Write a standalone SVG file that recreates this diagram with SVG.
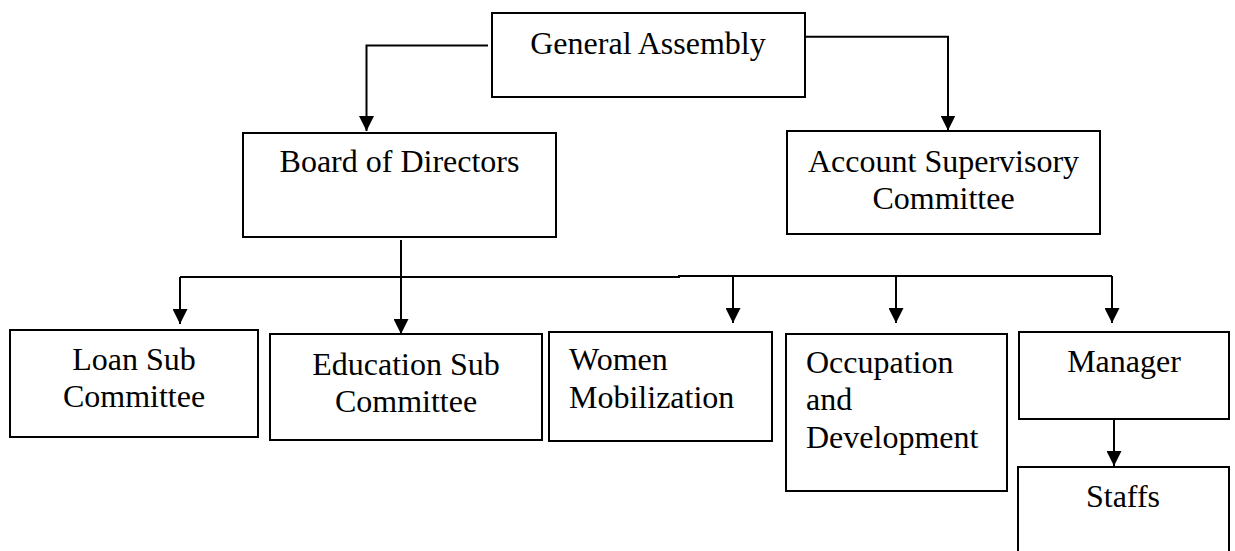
<svg xmlns="http://www.w3.org/2000/svg" width="1235" height="551" viewBox="0 0 1235 551">
<style>
.box{fill:#fff;stroke:#000;stroke-width:2}
.t{font-family:"Liberation Serif","Times New Roman",serif;font-size:32px;fill:#000}
.c{text-anchor:middle}
.ln{fill:none;stroke:#000;stroke-width:2}
</style>
<defs>
<marker id="ah" markerUnits="userSpaceOnUse" markerWidth="15" markerHeight="15" refX="15" refY="7.5" orient="auto">
<path d="M0,0 L15,7.5 L0,15 Z" fill="#000"/>
</marker>
</defs>
<rect width="1235" height="551" fill="#fff"/>
<g id="connectors">
<path class="ln" d="M488,45.5 H366.5 V131" marker-end="url(#ah)"/>
<path class="ln" d="M805,36.7 H948 V130.5" marker-end="url(#ah)"/>
<path class="ln" d="M401,240 V334" marker-end="url(#ah)"/>
<path class="ln" d="M180,277 H680"/>
<path class="ln" d="M678,276 H1112"/>
<path class="ln" d="M180,277 V324" marker-end="url(#ah)"/>
<path class="ln" d="M733,276 V323" marker-end="url(#ah)"/>
<path class="ln" d="M896,276 V323" marker-end="url(#ah)"/>
<path class="ln" d="M1112,276 V323" marker-end="url(#ah)"/>
<path class="ln" d="M1114,419 V466" marker-end="url(#ah)"/>
</g>
<g id="general-assembly">
<rect class="box" x="492" y="13" width="313" height="84"/>
<text class="t c" x="648" y="54">General Assembly</text>
</g>
<g id="board-of-directors">
<rect class="box" x="243" y="133" width="313" height="104"/>
<text class="t c" x="399.5" y="172">Board of Directors</text>
</g>
<g id="account-supervisory-committee">
<rect class="box" x="787" y="131" width="313" height="103"/>
<text class="t c" x="943.5" y="172">Account Supervisory</text>
<text class="t c" x="943.5" y="209">Committee</text>
</g>
<g id="loan-sub-committee">
<rect class="box" x="10" y="330" width="248" height="107"/>
<text class="t c" x="134" y="370">Loan Sub</text>
<text class="t c" x="134" y="407">Committee</text>
</g>
<g id="education-sub-committee">
<rect class="box" x="270" y="334" width="272" height="106"/>
<text class="t c" x="406" y="375">Education Sub</text>
<text class="t c" x="406" y="412">Committee</text>
</g>
<g id="women-mobilization">
<rect class="box" x="549" y="332" width="223" height="109"/>
<text class="t" x="569" y="370">Women</text>
<text class="t" x="569" y="408">Mobilization</text>
</g>
<g id="occupation-and-development">
<rect class="box" x="786" y="334" width="221" height="157"/>
<text class="t" x="806" y="373">Occupation</text>
<text class="t" x="806" y="410">and</text>
<text class="t" x="806" y="448">Development</text>
</g>
<g id="manager">
<rect class="box" x="1019" y="332" width="210" height="87"/>
<text class="t c" x="1124" y="372">Manager</text>
</g>
<g id="staffs">
<rect class="box" x="1018" y="467" width="211" height="100"/>
<text class="t c" x="1123" y="507">Staffs</text>
</g>
</svg>
